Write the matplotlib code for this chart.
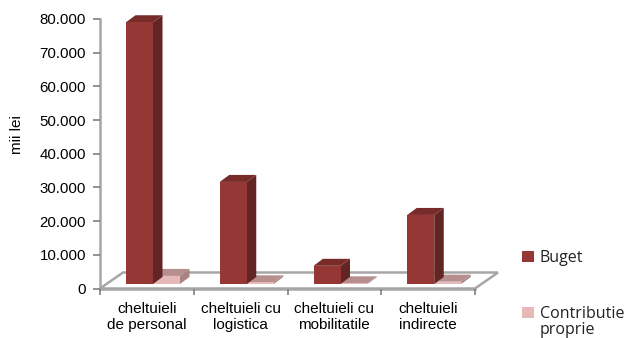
import numpy as np
import matplotlib
matplotlib.use('Agg')
import matplotlib.pyplot as plt
from matplotlib.patches import Polygon, Patch

categories = ['cheltuieli\nde personal', 'cheltuieli cu\nlogistica',
              'cheltuieli cu\nmobilitatile', 'cheltuieli\nindirecte']
buget = [77700, 30300, 5400, 20500]
contributie = [2400, 500, 200, 700]
yticks = [0, 10000, 20000, 30000, 40000, 50000, 60000, 70000, 80000]
yticklabels = ['0', '10.000', '20.000', '30.000', '40.000', '50.000', '60.000', '70.000', '80.000']

W, H = 627, 338
fig = plt.figure(figsize=(W / 100, H / 100), dpi=100)
ax = fig.add_axes([100 / W, 1 - 288.5 / H, 375 / W, 269.5 / H])
ax.set_xlim(0, 4)
ax.set_ylim(0, 80000)

# pixel sizes turned into data units
px_x = 4 / 375.
px_y = 80000 / 269.5
bar_w = 27 * px_x
start = 26 * px_x
base = 4.5 * px_y
dx, dy = 9.5 * px_x, 7 * px_y

grey = '#a6a6a6'
plt.rcParams['font.family'] = ['Liberation Sans', 'DejaVu Sans']

# floor
floor = Polygon([(0, 0), (23 * px_x, 16 * px_y), (4 + 23 * px_x, 16 * px_y), (4, 0)],
                closed=True, fc='white', ec=grey, lw=1.8, clip_on=False, zorder=1)
ax.add_patch(floor)


def bar3d(x, val, front, side, top, z):
    y0, y1 = base, base + val
    ax.add_patch(Polygon([(x + bar_w, y0), (x + bar_w + dx, y0 + dy), (x + bar_w + dx, y1 + dy), (x + bar_w, y1)],
                         fc=side, ec='none', clip_on=False, zorder=z))
    ax.add_patch(Polygon([(x, y1), (x + dx, y1 + dy), (x + bar_w + dx, y1 + dy), (x + bar_w, y1)],
                         fc=top, ec='none', clip_on=False, zorder=z))
    ax.bar(x, val, bar_w, bottom=base, align='edge', color=front, clip_on=False, zorder=z + 0.5)


for i in range(len(categories)):
    x = i + start
    bar3d(x + bar_w, contributie[i], '#e6b9b8', '#a98483', '#b58e8d', 2)
    bar3d(x, buget[i], '#953735', '#632523', '#772c2a', 3)

for s in ['top', 'right']:
    ax.spines[s].set_visible(False)
for s in ['left', 'bottom']:
    ax.spines[s].set_color(grey)
    ax.spines[s].set_linewidth(1.8)
    ax.spines[s].set_zorder(1.5)

ax.set_yticks(yticks)
ax.set_yticklabels(yticklabels, fontsize=10.8, color='black', family=['Liberation Sans'])
ax.tick_params(axis='y', length=5, width=1.2, color='#7f7f7f', pad=5)
ax.set_xticks(range(5))
ax.set_xticklabels([])
ax.tick_params(axis='x', which='major', length=4, width=1.2, color='#7f7f7f')
ax.set_xticks(np.arange(len(categories)) + 0.5, minor=True)
ax.set_xticklabels(categories, minor=True, fontsize=11, family=['Liberation Sans'], linespacing=1.25)
ax.tick_params(axis='x', which='minor', length=0, pad=9.5)
ax.set_ylabel('mii lei', fontsize=11, family=['Liberation Sans'])
ax.yaxis.set_label_coords(-76 / 375., 0.57)

handles = [Patch(fc='#953735', ec='none'), Patch(fc='#e6b9b8', ec='none')]
fig.legend(handles, ['Buget', 'Contributie'], loc='upper left',
           bbox_to_anchor=(522 / W, 1 - 250 / H), frameon=False,
           prop={'family': 'Open Sans', 'size': 11.5}, handlelength=0.75, handleheight=0.75,
           handletextpad=0.35, labelspacing=2.5, borderpad=0, borderaxespad=0,
           labelcolor='#222222')
# second line of the legend label sits right on the bottom edge
fig.text(540 / W, 1 - 330 / H, 'proprie', family='Open Sans', fontsize=11.5, color='#222222', va='center')

plt.savefig('out.png', dpi=100)
